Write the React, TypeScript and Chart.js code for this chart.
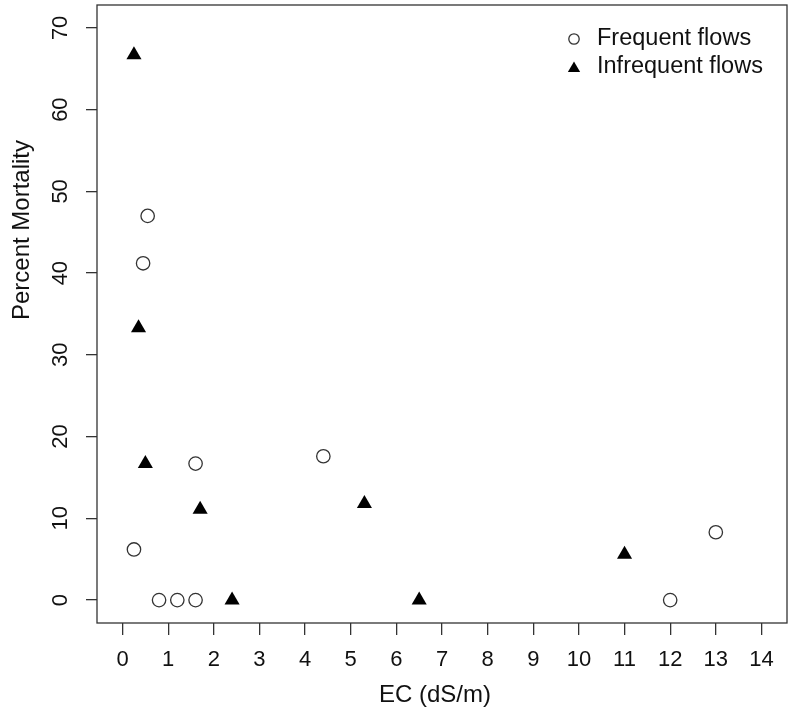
import React, { useEffect, useRef } from "react";
import { Chart, registerables } from "chart.js";

Chart.register(...registerables);

// ---- data ----
const frequentEC = [0.25, 0.45, 0.55, 0.8, 1.2, 1.6, 1.6, 4.4, 12, 13];
const frequentMortality = [6.2, 41.2, 47.0, 0, 0, 0, 16.7, 17.6, 0, 8.3];
const infrequentEC = [0.25, 0.35, 0.5, 1.7, 2.4, 5.3, 6.5, 11];
const infrequentMortality = [66.7, 33.3, 16.7, 11.1, 0, 11.8, 0, 5.6];

const seriesLabels = ["Frequent flows", "Infrequent flows"];
const xTickValues = [0, 1, 2, 3, 4, 5, 6, 7, 8, 9, 10, 11, 12, 13, 14];
const yTickValues = [0, 10, 20, 30, 40, 50, 60, 70];
const xTitle = "EC (dS/m)";
const yTitle = "Percent Mortality";

const FONT = '"Liberation Sans", Arial, Helvetica, sans-serif';
const INK = "#111";
const LINE = "#333";

function drawSymbol(
  ctx: CanvasRenderingContext2D,
  style: string,
  x: number,
  y: number,
  r: number,
  fill: string,
  stroke: string,
  lw: number
) {
  ctx.save();
  ctx.beginPath();
  if (style === "triangle") {
    let rad = 0;
    const third = (2 * Math.PI) / 3;
    ctx.moveTo(x + Math.sin(rad) * r, y - Math.cos(rad) * r);
    rad += third;
    ctx.lineTo(x + Math.sin(rad) * r, y - Math.cos(rad) * r);
    rad += third;
    ctx.lineTo(x + Math.sin(rad) * r, y - Math.cos(rad) * r);
    ctx.closePath();
  } else {
    ctx.arc(x, y, r, 0, Math.PI * 2);
  }
  ctx.fillStyle = fill;
  ctx.fill();
  if (lw > 0) {
    ctx.lineWidth = lw;
    ctx.strokeStyle = stroke;
    ctx.stroke();
  }
  ctx.restore();
}

const decorPlugin = {
  id: "decor",
  afterDraw(chart: any) {
    const { ctx, chartArea: a } = chart;
    ctx.save();
    // plot box
    ctx.strokeStyle = LINE;
    ctx.lineWidth = 1.3;
    ctx.strokeRect(a.left, a.top, a.right - a.left, a.bottom - a.top);

    // axis titles
    ctx.fillStyle = INK;
    ctx.font = `24px ${FONT}`;
    ctx.textAlign = "center";
    ctx.textBaseline = "middle";
    ctx.fillText(xTitle, (a.left + a.right) / 2 - 7, a.bottom + 72);
    ctx.save();
    ctx.translate(22, 230);
    ctx.rotate(-Math.PI / 2);
    ctx.fillText(yTitle, 0, 0);
    ctx.restore();

    // legend
    const lx = a.right - 213;
    const ly = a.top + 34;
    chart.data.datasets.forEach((ds: any, i: number) => {
      const y = ly + i * 28;
      const isTri = ds.pointStyle === "triangle";
      drawSymbol(
        ctx,
        ds.pointStyle,
        lx,
        isTri ? y + 1.5 : y,
        isTri ? 7.1 : 5.2,
        ds.backgroundColor,
        ds.borderColor,
        ds.pointBorderWidth
      );
      ctx.font = `23.5px ${FONT}`;
      ctx.textAlign = "left";
      ctx.textBaseline = "middle";
      ctx.fillStyle = INK;
      ctx.fillText(ds.label, lx + 23, y);
    });
    ctx.restore();
  },
};

function zeroPadding(scale: any) {
  scale.paddingLeft = 0;
  scale.paddingRight = 0;
  scale.paddingTop = 0;
  scale.paddingBottom = 0;
}

export default function App() {
  const ref = useRef<HTMLCanvasElement | null>(null);

  useEffect(() => {
    if (!ref.current) return;
    const chart = new Chart(ref.current, {
      type: "scatter",
      data: {
        datasets: [
          {
            label: seriesLabels[0],
            data: frequentEC.map((x, i) => ({ x, y: frequentMortality[i] })),
            pointStyle: "circle",
            pointRadius: 6.7,
            pointBorderWidth: 1.3,
            backgroundColor: "rgba(255,255,255,0)",
            borderColor: LINE,
          } as any,
          {
            label: seriesLabels[1],
            data: infrequentEC.map((x, i) => ({ x, y: infrequentMortality[i] })),
            pointStyle: "triangle",
            pointRadius: 8.7,
            pointBorderWidth: 0,
            backgroundColor: "#000",
            borderColor: "#000",
          } as any,
        ],
      },
      options: {
        animation: false,
        responsive: false,
        maintainAspectRatio: false,
        layout: {
          autoPadding: false,
          padding: { top: 5, right: 1, left: 0, bottom: 0 },
        },
        plugins: {
          legend: { display: false },
          tooltip: { enabled: false },
        },
        scales: {
          x: {
            type: "linear",
            position: "bottom",
            min: -0.56,
            max: 14.56,
            afterBuildTicks: (scale: any) => {
              scale.ticks = xTickValues.map((v) => ({ value: v }));
            },
            afterFit: (scale: any) => {
              scale.height = 90;
              zeroPadding(scale);
            },
            grid: {
              display: true,
              drawOnChartArea: false,
              drawTicks: true,
              tickLength: 12,
              color: LINE,
              lineWidth: 1.3,
            },
            border: { display: false },
            ticks: {
              color: INK,
              font: { family: FONT, size: 22 },
              padding: 12,
              maxRotation: 0,
              minRotation: 0,
              autoSkip: false,
            },
          },
          y: {
            type: "linear",
            position: "left",
            min: -2.8,
            max: 72.8,
            afterBuildTicks: (scale: any) => {
              scale.ticks = yTickValues.map((v) => ({ value: v }));
            },
            afterFit: (scale: any) => {
              scale.width = 97;
              zeroPadding(scale);
            },
            grid: {
              display: true,
              drawOnChartArea: false,
              drawTicks: true,
              tickLength: 11,
              color: LINE,
              lineWidth: 1.3,
            },
            border: { display: false },
            ticks: {
              color: INK,
              font: { family: FONT, size: 22 },
              padding: 13,
              minRotation: 90,
              maxRotation: 90,
              crossAlign: "center",
              autoSkip: false,
            },
          },
        },
      },
      plugins: [decorPlugin],
    } as any);
    return () => chart.destroy();
  }, []);

  return (
    <div
      style={{
        position: "absolute",
        left: 0,
        top: 0,
        width: 788,
        height: 713,
        background: "#fff",
      }}
    >
      <canvas ref={ref} width={788} height={713} style={{ width: 788, height: 713 }} />
    </div>
  );
}
